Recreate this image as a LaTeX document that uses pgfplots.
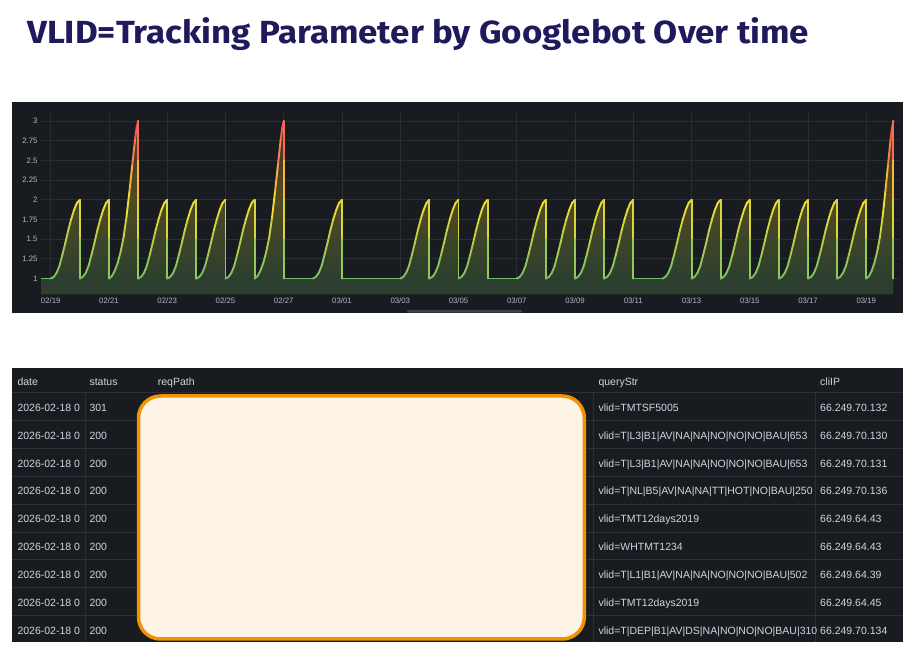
\documentclass[border=0pt]{standalone}
\usepackage{graphicx}
\usepackage{pgfplots}
\pgfplotsset{compat=1.18}
\usepackage{pgfplotstable}
\usepackage{fontspec}
\setmainfont{Liberation Sans}
\newfontfamily\titlefont{Fira Sans}

\definecolor{panelbg}{RGB}{24,27,31}
\definecolor{gridc}{RGB}{42,45,50}
\definecolor{tickc}{RGB}{180,182,192}
\definecolor{txtc}{RGB}{212,212,224}
\definecolor{sepc}{RGB}{44,47,53}
\definecolor{titlec}{RGB}{30,26,92}
\definecolor{fillG}{RGB}{44,63,46}
\definecolor{fillY}{RGB}{80,75,34}
\definecolor{fillR}{RGB}{84,42,46}
\definecolor{boxfill}{RGB}{253,244,230}
\definecolor{boxdraw}{RGB}{243,146,0}
\definecolor{scrollc}{RGB}{62,65,72}

\pgfdeclareverticalshading{fillgrad}{100bp}{color(0bp)=(fillG); color(29.55bp)=(fillG); color(52.27bp)=(fillY); color(75bp)=(fillR); color(100bp)=(fillR)}

\pgfplotstableread[row sep=\\]{
x y\\
-0.33 1\\ 0 1\\
0.1 1.02\\ 0.2 1.07\\ 0.3 1.16\\ 0.4 1.30\\ 0.5 1.45\\ 0.6 1.61\\ 0.7 1.75\\ 0.8 1.87\\ 0.9 1.96\\ 1 2\\ 1 1.5\\ 1 1\\
1.1 1.02\\ 1.2 1.07\\ 1.3 1.16\\ 1.4 1.30\\ 1.5 1.45\\ 1.6 1.61\\ 1.7 1.75\\ 1.8 1.87\\ 1.9 1.96\\ 2 2\\ 2 1.5\\ 2 1\\
2.1 1.03\\ 2.2 1.10\\ 2.3 1.20\\ 2.4 1.34\\ 2.5 1.52\\ 2.6 1.78\\ 2.7 2.10\\ 2.8 2.44\\ 2.9 2.78\\ 2.95 2.92\\ 3 3\\ 3 2.5\\ 3 2\\ 3 1.5\\ 3 1\\
3.1 1.02\\ 3.2 1.07\\ 3.3 1.16\\ 3.4 1.30\\ 3.5 1.45\\ 3.6 1.61\\ 3.7 1.75\\ 3.8 1.87\\ 3.9 1.96\\ 4 2\\ 4 1.5\\ 4 1\\
4.1 1.02\\ 4.2 1.07\\ 4.3 1.16\\ 4.4 1.30\\ 4.5 1.45\\ 4.6 1.61\\ 4.7 1.75\\ 4.8 1.87\\ 4.9 1.96\\ 5 2\\ 5 1.5\\ 5 1\\
5.1 1.02\\ 5.2 1.07\\ 5.3 1.16\\ 5.4 1.30\\ 5.5 1.45\\ 5.6 1.61\\ 5.7 1.75\\ 5.8 1.87\\ 5.9 1.96\\ 6 2\\ 6 1.5\\ 6 1\\
6.1 1.02\\ 6.2 1.07\\ 6.3 1.16\\ 6.4 1.30\\ 6.5 1.45\\ 6.6 1.61\\ 6.7 1.75\\ 6.8 1.87\\ 6.9 1.96\\ 7 2\\ 7 1.5\\ 7 1\\
7.1 1.03\\ 7.2 1.10\\ 7.3 1.20\\ 7.4 1.34\\ 7.5 1.52\\ 7.6 1.78\\ 7.7 2.10\\ 7.8 2.44\\ 7.9 2.78\\ 7.95 2.92\\ 8 3\\ 8 2.5\\ 8 2\\ 8 1.5\\ 8 1\\
9 1\\
9.1 1.02\\ 9.2 1.07\\ 9.3 1.16\\ 9.4 1.30\\ 9.5 1.45\\ 9.6 1.61\\ 9.7 1.75\\ 9.8 1.87\\ 9.9 1.96\\ 10 2\\ 10 1.5\\ 10 1\\
12 1\\
12.1 1.02\\ 12.2 1.07\\ 12.3 1.16\\ 12.4 1.30\\ 12.5 1.45\\ 12.6 1.61\\ 12.7 1.75\\ 12.8 1.87\\ 12.9 1.96\\ 13 2\\ 13 1.5\\ 13 1\\
13.1 1.02\\ 13.2 1.07\\ 13.3 1.16\\ 13.4 1.30\\ 13.5 1.45\\ 13.6 1.61\\ 13.7 1.75\\ 13.8 1.87\\ 13.9 1.96\\ 14 2\\ 14 1.5\\ 14 1\\
14.1 1.02\\ 14.2 1.07\\ 14.3 1.16\\ 14.4 1.30\\ 14.5 1.45\\ 14.6 1.61\\ 14.7 1.75\\ 14.8 1.87\\ 14.9 1.96\\ 15 2\\ 15 1.5\\ 15 1\\
16 1\\
16.1 1.02\\ 16.2 1.07\\ 16.3 1.16\\ 16.4 1.30\\ 16.5 1.45\\ 16.6 1.61\\ 16.7 1.75\\ 16.8 1.87\\ 16.9 1.96\\ 17 2\\ 17 1.5\\ 17 1\\
17.1 1.02\\ 17.2 1.07\\ 17.3 1.16\\ 17.4 1.30\\ 17.5 1.45\\ 17.6 1.61\\ 17.7 1.75\\ 17.8 1.87\\ 17.9 1.96\\ 18 2\\ 18 1.5\\ 18 1\\
18.1 1.02\\ 18.2 1.07\\ 18.3 1.16\\ 18.4 1.30\\ 18.5 1.45\\ 18.6 1.61\\ 18.7 1.75\\ 18.8 1.87\\ 18.9 1.96\\ 19 2\\ 19 1.5\\ 19 1\\
19.1 1.02\\ 19.2 1.07\\ 19.3 1.16\\ 19.4 1.30\\ 19.5 1.45\\ 19.6 1.61\\ 19.7 1.75\\ 19.8 1.87\\ 19.9 1.96\\ 20 2\\ 20 1.5\\ 20 1\\
21 1\\
21.1 1.02\\ 21.2 1.07\\ 21.3 1.16\\ 21.4 1.30\\ 21.5 1.45\\ 21.6 1.61\\ 21.7 1.75\\ 21.8 1.87\\ 21.9 1.96\\ 22 2\\ 22 1.5\\ 22 1\\
22.1 1.02\\ 22.2 1.07\\ 22.3 1.16\\ 22.4 1.30\\ 22.5 1.45\\ 22.6 1.61\\ 22.7 1.75\\ 22.8 1.87\\ 22.9 1.96\\ 23 2\\ 23 1.5\\ 23 1\\
23.1 1.02\\ 23.2 1.07\\ 23.3 1.16\\ 23.4 1.30\\ 23.5 1.45\\ 23.6 1.61\\ 23.7 1.75\\ 23.8 1.87\\ 23.9 1.96\\ 24 2\\ 24 1.5\\ 24 1\\
24.1 1.02\\ 24.2 1.07\\ 24.3 1.16\\ 24.4 1.30\\ 24.5 1.45\\ 24.6 1.61\\ 24.7 1.75\\ 24.8 1.87\\ 24.9 1.96\\ 25 2\\ 25 1.5\\ 25 1\\
25.1 1.02\\ 25.2 1.07\\ 25.3 1.16\\ 25.4 1.30\\ 25.5 1.45\\ 25.6 1.61\\ 25.7 1.75\\ 25.8 1.87\\ 25.9 1.96\\ 26 2\\ 26 1.5\\ 26 1\\
26.1 1.02\\ 26.2 1.07\\ 26.3 1.16\\ 26.4 1.30\\ 26.5 1.45\\ 26.6 1.61\\ 26.7 1.75\\ 26.8 1.87\\ 26.9 1.96\\ 27 2\\ 27 1.5\\ 27 1\\
27.1 1.02\\ 27.2 1.07\\ 27.3 1.16\\ 27.4 1.30\\ 27.5 1.45\\ 27.6 1.61\\ 27.7 1.75\\ 27.8 1.87\\ 27.9 1.96\\ 28 2\\ 28 1.5\\ 28 1\\
28.093 1.03\\ 28.186 1.10\\ 28.279 1.20\\ 28.372 1.34\\ 28.465 1.52\\ 28.558 1.78\\ 28.651 2.10\\ 28.744 2.44\\ 28.837 2.78\\ 28.884 2.92\\ 28.93 3\\ 28.93 2.5\\ 28.93 2\\ 28.93 1.5\\ 28.93 1\\
}\curvedata

\begin{document}
\begin{tikzpicture}
\begin{scope}[x=1pt,y=1pt]
  \fill[white] (0,0) rectangle (917,663);
  \node[anchor=base west, inner sep=0, text=titlec, font=\titlefont\bfseries\fontsize{32}{36}\selectfont] at (27,619) {\scalebox{1.09}[1]{VLID=Tracking Parameter by Googlebot Over time}};
  \fill[panelbg] (12,350.3) rectangle (902.7,560.7);
  \fill[scrollc, rounded corners=1pt] (407,350.3) rectangle (522,353);
\end{scope}

\begin{axis}[
  at={(41.1pt,368.7pt)}, anchor=south west, scale only axis,
  width=859pt, height=181.2pt,
  xmin=-0.33, xmax=29.16, ymin=0.8, ymax=3.1,
  axis line style={draw=none}, major tick length=0pt,
  xtick={0,2,4,6,8,10,12,14,16,18,20,22,24,26,28},
  xticklabels={02/19,02/21,02/23,02/25,02/27,03/01,03/03,03/05,03/07,03/09,03/11,03/13,03/15,03/17,03/19},
  ytick={1,1.25,1.5,1.75,2,2.25,2.5,2.75,3},
  yticklabels={1,1.25,1.5,1.75,2,2.25,2.5,2.75,3},
  grid=major, major grid style={gridc, line width=0.7pt},
  tick label style={font=\fontsize{7.8}{9}\selectfont, text=tickc},
  /pgf/number format/assume math mode=true,
  colormap={gyr}{rgb255(0)=(115,191,105) rgb255(1)=(250,222,42) rgb255(2)=(242,73,92)},
  point meta min=1, point meta max=3,
]
\addplot[draw=none, shading=fillgrad] table {\curvedata} -- (axis cs:28.93,0.8) -- (axis cs:-0.33,0.8) -- cycle;
\addplot[mesh, shader=flat mean, point meta=y, line width=1.9pt, line cap=round, line join=round] table {\curvedata};
\end{axis}

\begin{scope}[x=1pt,y=1pt]
  \fill[panelbg] (12,21.3) rectangle (903,295.3);
  \draw[sepc, line width=0.8pt] (12,270.7) -- (903,270.7);
  \foreach \yy in {242.6,214.7,186.8,158.9,131.0,103.1,75.2,47.3}
    \draw[sepc, line width=0.8pt] (12,\yy) -- (903,\yy);
  \foreach \xx in {85,593.3,815.7}
    \draw[sepc, line width=0.8pt] (\xx,270.7) -- (\xx,21.3);
  \begin{scope}[every node/.style={anchor=base west, inner sep=0, text=txtc, font=\fontsize{10.5}{12}\selectfont}]
    \node at (17.3,277.6) {date};
    \node at (89.3,277.6) {status};
    \node at (157.7,277.6) {reqPath};
    \node at (598.3,277.6) {queryStr};
    \node at (820,277.6) {cliIP};
    \foreach \st/\qs/\ip [count=\i from 0] in {
      301/vlid=TMTSF5005/66.249.70.132,
      200/vlid=T|L3|B1|AV|NA|NA|NO|NO|NO|BAU|653/66.249.70.130,
      200/vlid=T|L3|B1|AV|NA|NA|NO|NO|NO|BAU|653/66.249.70.131,
      200/vlid=T|NL|B5|AV|NA|NA|TT|HOT|NO|BAU|250/66.249.70.136,
      200/vlid=TMT12days2019/66.249.64.43,
      200/vlid=WHTMT1234/66.249.64.43,
      200/vlid=T|L1|B1|AV|NA|NA|NO|NO|NO|BAU|502/66.249.64.39,
      200/vlid=TMT12days2019/66.249.64.45,
      200/vlid=T|DEP|B1|AV|DS|NA|NO|NO|NO|BAU|310/66.249.70.134}
    {
      \node at (17.3,251.7-27.9*\i) {2026-02-18 0};
      \node at (89.3,251.7-27.9*\i) {\st};
      \node at (598.3,251.7-27.9*\i) {\qs};
      \node at (820,251.7-27.9*\i) {\ip};
    }
  \end{scope}
  \draw[boxdraw, fill=boxfill, line width=3.5pt, rounded corners=22pt] (138.5,24) rectangle (584.3,267);
\end{scope}
\end{tikzpicture}
\end{document}
